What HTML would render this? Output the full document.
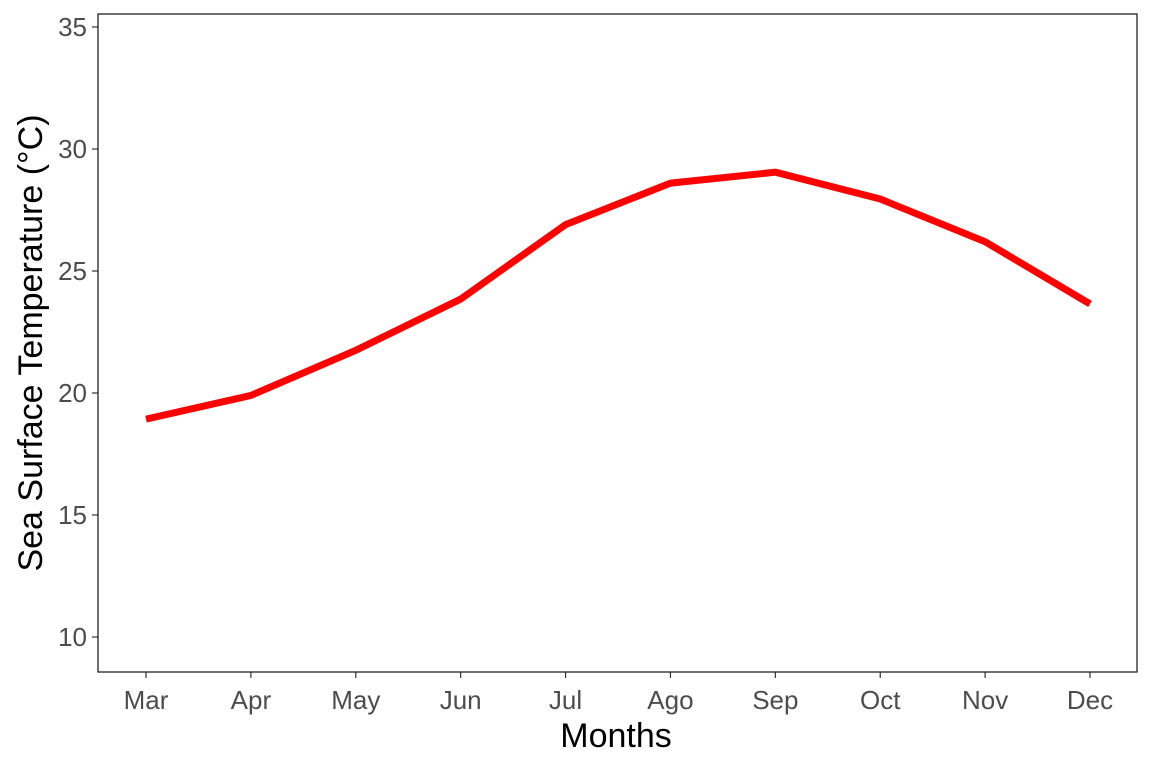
<!DOCTYPE html>
<html><head><meta charset="utf-8">
<style>
html,body{margin:0;padding:0;background:#fff;}
svg{display:block;font-family:"Liberation Sans",Arial,sans-serif;}
</style></head>
<body>
<svg id="chart" width="1152" height="768">
  <rect x="0" y="0" width="1152" height="768" fill="#fff"/>
  <g id="axes"></g>
  <rect x="98" y="14" width="1039" height="658" fill="none" stroke="#222" stroke-width="1.3"/>
  <text x="616" y="747" text-anchor="middle" font-size="34" fill="#000">Months</text>
  <text transform="translate(42,343) rotate(-90)" text-anchor="middle" font-size="34" fill="#000">Sea Surface Temperature (°C)</text>
</svg>
<script>
const categories = ["Mar","Apr","May","Jun","Jul","Ago","Sep","Oct","Nov","Dec"];
const sstValues = [18.93, 19.9, 21.75, 23.85, 26.9, 28.6, 29.05, 27.95, 26.2, 23.65];
const yTicks = [10, 15, 20, 25, 30, 35];

const NS = "http://www.w3.org/2000/svg";
const g = document.getElementById('axes');
const svg = document.getElementById('chart');
const x = i => 146 + i * (1090 - 146) / (categories.length - 1);
const y = v => 637 - (v - 10) * (610 / 25);

function mk(tag, attrs, parent) {
  const e = document.createElementNS(NS, tag);
  for (const k in attrs) e.setAttribute(k, attrs[k]);
  (parent || g).appendChild(e);
  return e;
}

yTicks.forEach(t => {
  const tk = mk('line', {x1: 92, x2: 98, y1: y(t), y2: y(t), stroke: '#333', 'stroke-width': 1.2});
  
  
  const lb = mk('text', {x: 87, y: y(t) + 9, 'text-anchor': 'end', 'font-size': 26, fill: '#4d4d4d'});
  lb.textContent = t;
  
  
});

categories.forEach((c, i) => {
  const tk = mk('line', {x1: x(i), x2: x(i), y1: 672, y2: 678, stroke: '#333', 'stroke-width': 1.2});
  
  
  const lb = mk('text', {x: x(i), y: 709, 'text-anchor': 'middle', 'font-size': 26, fill: '#4d4d4d'});
  lb.textContent = c;
  
  
});

const pts = sstValues.map((v, i) => x(i) + ',' + y(v)).join(' ');
const line = mk('polyline', {points: pts, fill: 'none', stroke: '#ff0000', 'stroke-width': 7, 'stroke-linejoin': 'round'}, svg);


</script>
</body></html>
